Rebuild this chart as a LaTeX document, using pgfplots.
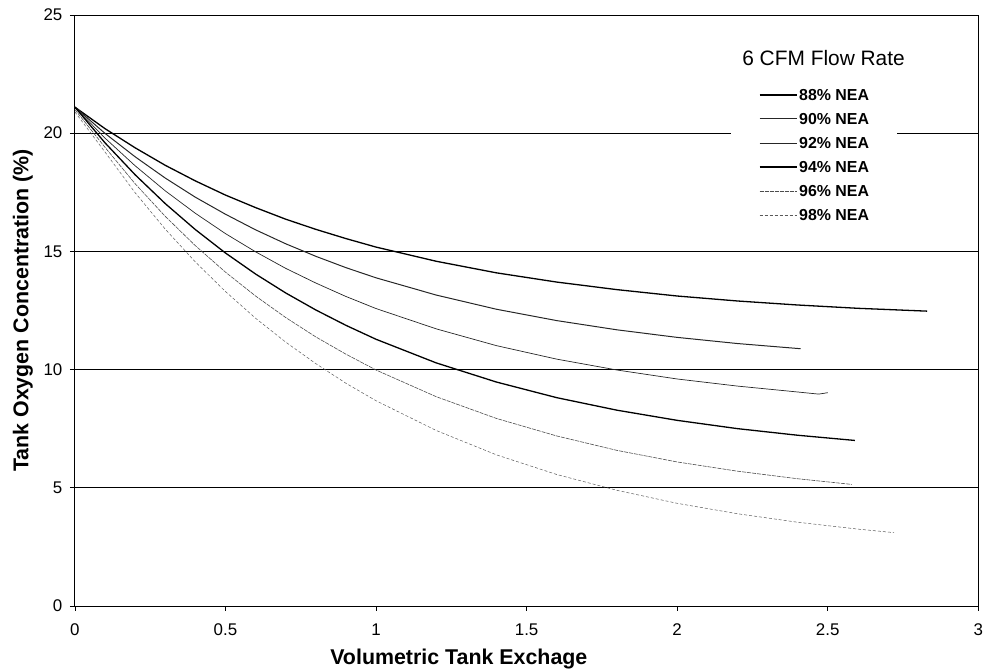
\documentclass[border=0pt]{standalone}
\usepackage{fontspec}
\setmainfont{Liberation Sans}
\usepackage{pgfplots}
\pgfplotsset{compat=1.18}

% O2 concentration vs. tank exchange
\pgfplotstableread{
x y
0 21.10
0.1 20.19
0.2 19.38
0.3 18.64
0.4 17.98
0.5 17.38
0.6 16.85
0.7 16.36
0.8 15.93
0.9 15.54
1.0 15.18
1.2 14.58
1.4 14.09
1.6 13.70
1.8 13.38
2.0 13.11
2.2 12.90
2.4 12.73
2.6 12.59
2.83 12.47
}\neaEE
\pgfplotstableread{
x y
0 21.10
0.1 19.99
0.2 19.00
0.3 18.10
0.4 17.29
0.5 16.57
0.6 15.91
0.7 15.32
0.8 14.79
0.9 14.31
1.0 13.88
1.2 13.15
1.4 12.55
1.6 12.07
1.8 11.68
2.0 11.36
2.2 11.10
2.41 10.88
}\neaNZ
\pgfplotstableread{
x y
0 21.10
0.1 19.79
0.2 18.62
0.3 17.56
0.4 16.61
0.5 15.75
0.6 14.98
0.7 14.28
0.8 13.66
0.9 13.09
1.0 12.58
1.2 11.72
1.4 11.01
1.6 10.44
1.8 9.98
2.0 9.60
2.2 9.30
2.4 9.05
2.47 8.96
2.5 9.02
}\neaNT
\pgfplotstableread{
x y
0 21.10
0.1 19.59
0.2 18.24
0.3 17.02
0.4 15.92
0.5 14.93
0.6 14.04
0.7 13.24
0.8 12.52
0.9 11.87
1.0 11.28
1.2 10.28
1.4 9.47
1.6 8.81
1.8 8.28
2.0 7.85
2.2 7.50
2.4 7.22
2.59 7.00
}\neaNF
\pgfplotstableread{
x y
0 21.00
0.1 19.40
0.2 17.86
0.3 16.48
0.4 15.24
0.5 14.12
0.6 13.11
0.7 12.20
0.8 11.38
0.9 10.65
1.0 9.98
1.2 8.85
1.4 7.93
1.6 7.19
1.8 6.58
2.0 6.09
2.2 5.70
2.4 5.38
2.58 5.14
}\neaNS
\pgfplotstableread{
x y
0 20.90
0.1 19.20
0.2 17.48
0.3 15.94
0.4 14.55
0.5 13.30
0.6 12.17
0.7 11.16
0.8 10.25
0.9 9.42
1.0 8.68
1.2 7.42
1.4 6.39
1.6 5.56
1.8 4.89
2.0 4.34
2.2 3.90
2.4 3.54
2.6 3.25
2.72 3.10
}\neaNE

\begin{document}
\begin{tikzpicture}
\begin{axis}[
    width=905bp, height=592bp, scale only axis,
    xmin=0, xmax=3, ymin=0, ymax=25,
    xtick={0,0.5,1,1.5,2,2.5,3},
    ytick={0,5,10,15,20,25},
    ymajorgrids=true,
    major grid style={black, line width=0.7bp},
    axis line style={black, line width=0.8bp},
    tick style={black, line width=0.6bp},
    tick align=outside, tick pos=left,
    major tick length=5bp,
    /pgf/number format/assume math mode=true,
    ticklabel style={font=\fontsize{17}{19}\selectfont},
    xticklabel style={inner sep=2bp, yshift=-11bp},
    yticklabel style={xshift=-4bp},
    xlabel={Volumetric Tank Exchage},
    ylabel={Tank Oxygen Concentration (\%)},
    label style={font=\fontsize{21.5}{25}\selectfont\bfseries},
    xlabel style={at={(axis description cs:0.425,-0.0726)}, anchor=north, inner sep=0pt},
    ylabel style={at={(axis description cs:-0.0575,0.5)}, anchor=center, inner sep=0pt},
    legend cell align=left,
    legend image code/.code={\draw[#1] (0bp,0bp) -- (37bp,0bp);},
    legend style={at={(axis description cs:0.726,0.8826)}, anchor=north west,
        draw=none, fill=white, inner xsep=28bp, inner ysep=5bp,
        font=\fontsize{16}{18}\selectfont\bfseries,
        nodes={inner sep=0pt, text height=11bp, text depth=0bp},
        row sep=13bp, column sep=2bp},
    clip=false,
]
\addplot[black, line width=1.3bp] table {\neaEE};
\addlegendentry{88\% NEA}
\addplot[black!85, line width=1.0bp] table {\neaNZ};
\addlegendentry{90\% NEA}
\addplot[black!85, line width=0.7bp] table {\neaNT};
\addlegendentry{92\% NEA}
\addplot[black, line width=1.3bp] table {\neaNF};
\addlegendentry{94\% NEA}
\addplot[black!70, line width=0.6bp, dash pattern=on 4bp off 1bp] table {\neaNS};
\addlegendentry{96\% NEA}
\addplot[black!65, line width=0.5bp, dash pattern=on 3bp off 2bp] table {\neaNE};
\addlegendentry{98\% NEA}
\node[font=\fontsize{21}{24}\selectfont] at (axis description cs:0.8287,0.9274) {6 CFM Flow Rate};
% page frame with the reference's margins round the axis
\path (axis description cs:-0.0829,-0.1064) rectangle (axis description cs:1.0055,1.0253);
\end{axis}
\end{tikzpicture}
\end{document}
